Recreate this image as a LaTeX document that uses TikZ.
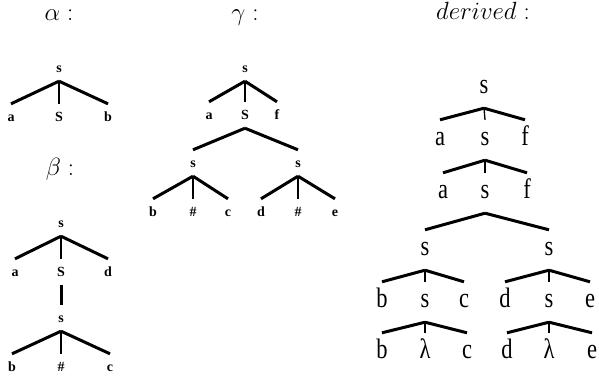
\documentclass[tikz,border=0pt]{standalone}
\usepackage{graphicx}
\usepackage{fontspec}
\newfontfamily\treefont{Liberation Serif}
\usetikzlibrary{positioning}
\newcommand{\tallab}[1]{\scalebox{1}[1.25]{#1}}
\begin{document}
\begin{tikzpicture}[
    x=1pt, y=-1pt,
    ttl/.style={font=\fontsize{26}{26}\selectfont, anchor=base, inner sep=0pt},
    sm/.style={font=\treefont\bfseries\fontsize{14}{14}\selectfont, text height=8pt, text depth=0pt, inner xsep=1pt, inner ysep=9pt},
    big/.style={font=\treefont\fontsize{22.5}{22.5}\selectfont, text height=11pt, text depth=0pt, inner xsep=1pt, inner ysep=14.5pt},
    br/.style={line width=3pt},
    stem/.style={line width=1.3pt},
]
\useasboundingbox (0,0) rectangle (599,381);
% titles
\node[ttl] (t-al) at (59,20) {$\alpha:$};
\node[ttl] (t-be) at (60,175) {$\beta:$};
\node[ttl] (t-ga) at (245,20) {$\gamma:$};
\node[ttl] (t-de) at (483,19) {$derived:$};
% alpha
\node[sm] (al-s) at (59,68) {s};
\node[sm] (al-a) at (11,117) {a};
\node[sm] (al-S) at (59,117) {S};
\node[sm] (al-b) at (108,117) {b};
% beta
\node[sm] (be-s) at (61,223) {s};
\node[sm] (be-a) at (15,272) {a};
\node[sm] (be-S) at (61,272) {S};
\node[sm] (be-d) at (108,272) {d};
\node[sm] (be-t) at (61,318) {s};
\node[sm] (be-b) at (12,367) {b};
\node[sm] (be-h) at (61,367) {\#};
\node[sm] (be-c) at (110,367) {c};
% gamma
\node[sm] (ga-s) at (245,68) {s};
\node[sm] (ga-a) at (209,115) {a};
\node[sm] (ga-S) at (245,115) {S};
\node[sm] (ga-f) at (277,115) {f};
\node[sm] (ga-l) at (193,163) {s};
\node[sm] (ga-r) at (298,163) {s};
\node[sm] (ga-b) at (153,212) {b};
\node[sm] (ga-h1) at (193,212) {\#};
\node[sm] (ga-c) at (228,212) {c};
\node[sm] (ga-d) at (261,212) {d};
\node[sm] (ga-h2) at (298,212) {\#};
\node[sm] (ga-e) at (335,212) {e};
% derived
\node[big] (de-s) at (484,88) {\tallab{s}};
\node[big] (de-a1) at (440,140) {\tallab{a}};
\node[big] (de-s1) at (485,140) {\tallab{s}};
\node[big] (de-f1) at (525,140) {\tallab{f}};
\node[big] (de-a2) at (443,193) {\tallab{a}};
\node[big] (de-s2) at (485,193) {\tallab{s}};
\node[big] (de-f2) at (527,193) {\tallab{f}};
\node[big] (de-l) at (425,250) {\tallab{s}};
\node[big] (de-r) at (549,250) {\tallab{s}};
\node[big] (de-b1) at (382,302) {\tallab{b}};
\node[big] (de-m1) at (425,302) {\tallab{s}};
\node[big] (de-c1) at (464,302) {\tallab{c}};
\node[big] (de-d1) at (505,302) {\tallab{d}};
\node[big] (de-n1) at (549,302) {\tallab{s}};
\node[big] (de-e1) at (590,302) {\tallab{e}};
\node[big] (de-b2) at (382,353) {\tallab{b}};
\node[big] (de-m2) at (425,353) {\tallab{λ}};
\node[big] (de-c2) at (467,353) {\tallab{c}};
\node[big] (de-d2) at (507,353) {\tallab{d}};
\node[big] (de-n2) at (549,353) {\tallab{λ}};
\node[big] (de-e2) at (592,353) {\tallab{e}};
% branches
\foreach \p/\c in {al-s/al-a, al-s/al-b, be-s/be-a, be-s/be-d, be-t/be-b, be-t/be-c,
    ga-s/ga-a, ga-s/ga-f, ga-S/ga-l, ga-S/ga-r, ga-l/ga-b, ga-l/ga-c, ga-r/ga-d, ga-r/ga-e,
    de-s/de-a1, de-s/de-f1, de-s1/de-a2, de-s1/de-f2, de-s2/de-l, de-s2/de-r,
    de-l/de-b1, de-l/de-c1, de-r/de-d1, de-r/de-e1,
    de-m1/de-b2, de-m1/de-c2, de-n1/de-d2, de-n1/de-e2}
  \draw[br] (\p.south) -- (\c.north);
\draw[br] (be-S.south) -- (be-t.north);
\foreach \p/\c in {al-s/al-S, be-s/be-S, be-t/be-h, ga-s/ga-S, ga-l/ga-h1, ga-r/ga-h2,
    de-s/de-s1, de-s1/de-s2, de-l/de-m1, de-r/de-n1, de-m1/de-m2, de-n1/de-n2}
  \draw[stem] (\p.south) -- (\c.north);
\end{tikzpicture}
\end{document}
